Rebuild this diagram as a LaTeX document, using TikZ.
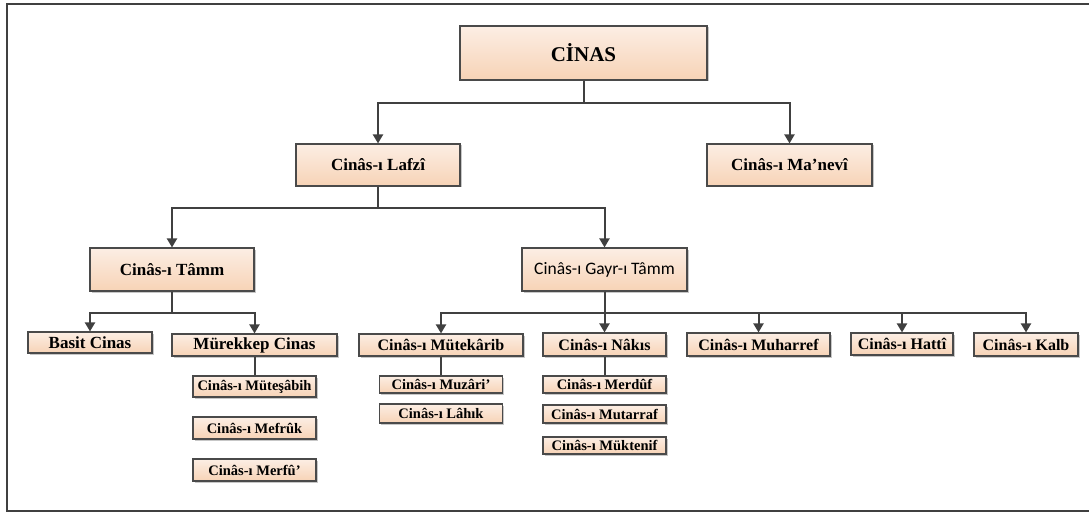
\documentclass[tikz,border=0pt]{standalone}
\usepackage{fontspec}
\setmainfont{Liberation Serif}
\newfontfamily\carlito{Carlito}
\usetikzlibrary{arrows.meta, shadows}

\definecolor{boxtop}{HTML}{FCEEE4}
\definecolor{boxbottom}{HTML}{F7D3B6}
\definecolor{boxline}{HTML}{4A4A4A}
\definecolor{connline}{HTML}{404040}

\begin{document}
\begin{tikzpicture}[
		x=1pt, y=-1pt,
		box/.style={draw=boxline, line width=1.1pt, top color=boxtop, bottom color=boxbottom, inner sep=0pt, align=center, drop shadow={shadow xshift=1.5pt, shadow yshift=-1.5pt, fill=black, opacity=0.22}},
		size/.style 2 args={minimum width=#1pt, minimum height=#2pt},
		bigbox/.style={box, font=\fontsize{21}{24}\selectfont\bfseries},
		midbox/.style={box, font=\fontsize{17}{20}\selectfont\bfseries},
		subbox/.style={box, font=\fontsize{16}{19}\selectfont\bfseries},
		smallbox/.style={box, font=\fontsize{14.5}{17}\selectfont\bfseries},
		conn/.style={-{Triangle[width=10pt, length=9pt]}, draw=connline, line width=2pt},
		link/.style={draw=connline, line width=2pt},
		frame/.style={draw=connline, line width=1.2pt}
	]

		\useasboundingbox (0,0) rectangle (1089,513);
		\draw[frame] (7,4) rectangle (1100,511);

		% Nodes
		\node[bigbox, size={247}{54}] (cinas) at (583.5,53) {CİNAS};
		\node[midbox, size={164}{42}] (lafzi) at (378,165) {Cinâs-ı Lafzî};
		\node[midbox, size={165}{42}] (manevi) at (789.5,165) {Cinâs-ı Ma’nevî};
		\node[midbox, size={164}{43}] (tamm) at (172,269.5) {Cinâs-ı Tâmm};
		\node[box, size={165}{43}, font=\carlito\fontsize{17.5}{20}\selectfont] (gayr) at (604.5,269.5) {Cinâs-ı Gayr-ı Tâmm};

		\node[midbox, size={124}{21}] (basit) at (90,342.5) {Basit Cinas};
		\node[midbox, size={165}{22}] (murekkep) at (254.5,345) {Mürekkep Cinas};
		\node[subbox, size={164}{22}] (mutekarib) at (441,345) {Cinâs-ı Mütekârib};
		\node[subbox, size={123}{23}] (nakis) at (604.5,344.5) {Cinâs-ı Nâkıs};
		\node[subbox, size={143}{23}] (muharref) at (758.5,344.5) {Cinâs-ı Muharref};
		\node[subbox, size={102}{22}] (hatti) at (902,344) {Cinâs-ı Hattî};
		\node[subbox, size={104}{23}] (kalb) at (1026,344.5) {Cinâs-ı Kalb};

		\node[smallbox, size={123}{21}] (mutesabih) at (254.5,386.5) {Cinâs-ı Müteşâbih};
		\node[smallbox, size={123}{22}] (mefruk) at (254.5,428) {Cinâs-ı Mefrûk};
		\node[smallbox, size={123}{22}] (merfu) at (254.5,470) {Cinâs-ı Merfû’};
		\node[smallbox, size={123}{17}] (muzari) at (441,384.5) {Cinâs-ı Muzâri’};
		\node[smallbox, size={123}{19}] (lahik) at (441,413.5) {Cinâs-ı Lâhık};
		\node[smallbox, size={123}{17}] (merduf) at (604.5,384.5) {Cinâs-ı Merdûf};
		\node[smallbox, size={123}{18}] (mutarraf) at (604.5,414) {Cinâs-ı Mutarraf};
		\node[smallbox, size={123}{17}] (muktenif) at (604.5,445.5) {Cinâs-ı Müktenif};

		% Arrows
		\draw[conn] (cinas.south) -- ++(0,22) -| (lafzi.north);
		\draw[conn] (cinas.south) -- ++(0,22) -| (manevi.north);
		\draw[conn] (lafzi.south) -- ++(0,21) -| (tamm.north);
		\draw[conn] (lafzi.south) -- ++(0,21) -| (gayr.north);
		\draw[conn] (tamm.south) -- ++(0,21) -| (basit.north);
		\draw[conn] (tamm.south) -- ++(0,21) -| (murekkep.north);
		\foreach \child in {mutekarib, nakis, muharref, hatti, kalb}
			\draw[conn] (gayr.south) -- ++(0,21) -| (\child.north);

		\draw[link] (murekkep.south) -- (mutesabih.north);
		\draw[link] (mutekarib.south) -- (muzari.north);
		\draw[link] (nakis.south) -- (merduf.north);

	\end{tikzpicture}
\end{document}
